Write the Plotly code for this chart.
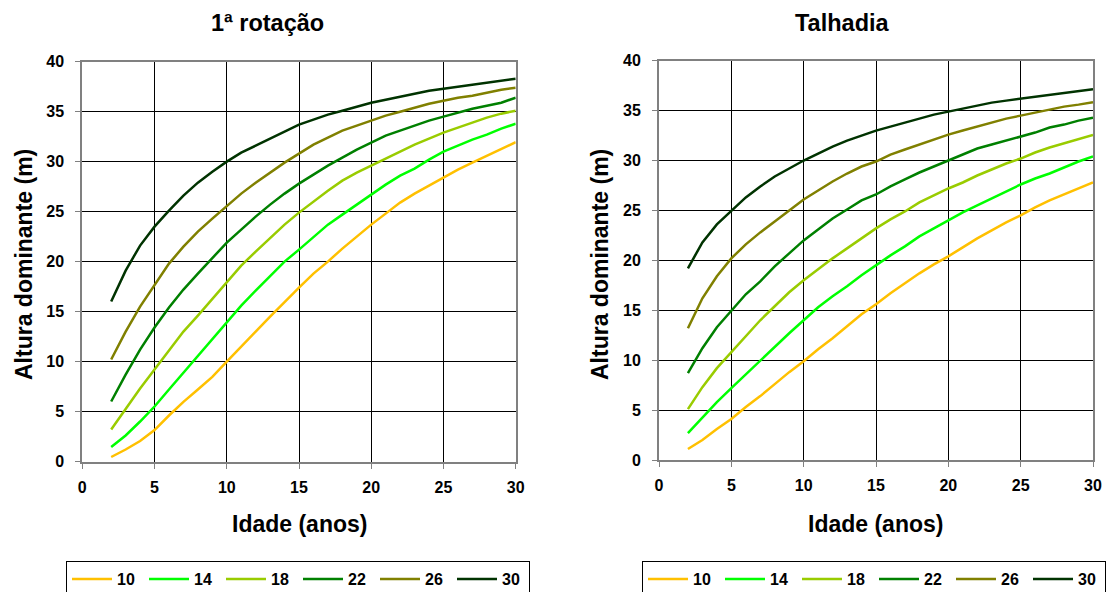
import plotly.graph_objects as go

# ---- data ----
ages = list(range(2, 31))
site_labels = ["10", "14", "18", "22", "26", "30"]
colors = ["#FFC000", "#00FF00", "#99CC00", "#008000", "#808000", "#003300"]

rot1_10 = [0.45, 1.2, 2.05, 3.15, 4.6, 5.97, 7.2, 8.47, 10.0, 11.55, 13.0, 14.5, 16.0, 17.4,
           18.8, 20.0, 21.3, 22.5, 23.7, 24.8, 25.9, 26.8, 27.6, 28.35, 29.2, 29.9, 30.6, 31.3, 31.95]
rot1_14 = [1.45, 2.6, 4.0, 5.5, 7.2, 8.9, 10.6, 12.3, 14.0, 15.6, 17.1, 18.6, 20.0, 21.2,
           22.5, 23.7, 24.7, 25.7, 26.7, 27.7, 28.6, 29.3, 30.2, 31.0, 31.6, 32.2, 32.7, 33.3, 33.8]
rot1_18 = [3.2, 5.3, 7.3, 9.2, 11.1, 13.0, 14.6, 16.3, 18.0, 19.6, 21.0, 22.4, 23.7, 24.9,
           26.0, 27.1, 28.1, 28.9, 29.6, 30.3, 31.0, 31.7, 32.3, 32.9, 33.4, 33.9, 34.4, 34.8, 35.1]
rot1_22 = [6.0, 8.7, 11.2, 13.4, 15.4, 17.2, 18.8, 20.4, 21.9, 23.2, 24.5, 25.7, 26.8, 27.8,
           28.7, 29.6, 30.4, 31.2, 31.9, 32.6, 33.1, 33.6, 34.1, 34.5, 34.9, 35.3, 35.6, 35.9, 36.4]
rot1_26 = [10.2, 13.0, 15.5, 17.7, 19.8, 21.5, 23.0, 24.3, 25.6, 26.8, 27.9, 28.9, 29.9, 30.8,
           31.7, 32.4, 33.1, 33.6, 34.1, 34.6, 35.0, 35.4, 35.8, 36.1, 36.4, 36.6, 36.9, 37.2, 37.4]
rot1_30 = [16.0, 19.1, 21.6, 23.5, 25.1, 26.6, 27.9, 29.0, 30.0, 30.9, 31.6, 32.3, 33.0, 33.7,
           34.2, 34.7, 35.1, 35.5, 35.9, 36.2, 36.5, 36.8, 37.1, 37.3, 37.5, 37.7, 37.9, 38.1, 38.3]

tal_10 = [1.1, 2.0, 3.1, 4.1, 5.3, 6.4, 7.6, 8.8, 9.9, 11.1, 12.2, 13.4, 14.6, 15.6,
          16.7, 17.7, 18.7, 19.6, 20.4, 21.3, 22.2, 23.0, 23.8, 24.5, 25.3, 26.0, 26.6, 27.2, 27.8]
tal_14 = [2.7, 4.3, 5.8, 7.2, 8.6, 9.9, 11.3, 12.7, 14.0, 15.3, 16.4, 17.4, 18.5, 19.5,
          20.5, 21.4, 22.4, 23.2, 24.0, 24.8, 25.5, 26.2, 26.9, 27.6, 28.2, 28.7, 29.3, 29.9, 30.4]
tal_18 = [5.1, 7.3, 9.2, 10.8, 12.5, 14.0, 15.4, 16.8, 18.0, 19.1, 20.2, 21.2, 22.2, 23.2,
          24.1, 24.9, 25.8, 26.5, 27.2, 27.8, 28.5, 29.1, 29.7, 30.2, 30.8, 31.3, 31.7, 32.1, 32.55]
tal_22 = [8.7, 11.2, 13.3, 15.0, 16.6, 17.9, 19.4, 20.7, 22.0, 23.1, 24.2, 25.1, 26.0, 26.6,
          27.4, 28.1, 28.8, 29.4, 30.0, 30.6, 31.2, 31.6, 32.0, 32.4, 32.8, 33.3, 33.6, 34.0, 34.3]
tal_26 = [13.2, 16.2, 18.4, 20.2, 21.6, 22.8, 23.9, 25.0, 26.1, 27.0, 27.9, 28.7, 29.4, 29.9,
          30.6, 31.1, 31.6, 32.1, 32.6, 33.0, 33.4, 33.8, 34.2, 34.5, 34.8, 35.1, 35.4, 35.6, 35.85]
tal_30 = [19.2, 21.8, 23.6, 25.0, 26.3, 27.4, 28.4, 29.2, 30.0, 30.7, 31.4, 32.0, 32.5, 33.0,
          33.4, 33.8, 34.2, 34.6, 34.9, 35.2, 35.5, 35.8, 36.0, 36.2, 36.4, 36.6, 36.8, 37.0, 37.15]

rot1_series = [rot1_10, rot1_14, rot1_18, rot1_22, rot1_26, rot1_30]
tal_series = [tal_10, tal_14, tal_18, tal_22, tal_26, tal_30]

panel_titles = ["1ª rotação", "Talhadia"]
x_title = "Idade (anos)"
y_title = "Altura dominante (m)"
tick_vals_x = [0, 5, 10, 15, 20, 25, 30]
tick_vals_y = [0, 5, 10, 15, 20, 25, 30, 35, 40]

# ---- figure ----
W, H = 1109, 592
FONT = "Arial, Liberation Sans, sans-serif"

fig = go.Figure()

for lab, col, ys in zip(site_labels, colors, rot1_series):
    fig.add_trace(go.Scatter(x=ages, y=ys, mode="lines", name=lab,
                             line=dict(color=col, width=2.5),
                             xaxis="x", yaxis="y", legend="legend"))
for lab, col, ys in zip(site_labels, colors, tal_series):
    fig.add_trace(go.Scatter(x=ages, y=ys, mode="lines", name=lab,
                             line=dict(color=col, width=2.5),
                             xaxis="x2", yaxis="y2", legend="legend2"))

axis_common = dict(
    showgrid=True, gridcolor="#000000", gridwidth=1,
    showline=True, linecolor="#808080", linewidth=2, mirror=True,
    ticks="outside", ticklen=5, tickcolor="#808080", tickwidth=1,
    zeroline=False,
    tickfont=dict(family=FONT, size=16, color="#000000", weight="bold"),
)
xaxis_extra = dict(ticklabelstandoff=5)
yaxis_extra = dict(ticklabelstandoff=8)

legend_common = dict(
    orientation="h", xanchor="left", y=1 - 561 / H, yanchor="top",
    bordercolor="#000000", borderwidth=1, bgcolor="white",
    entrywidth=22, entrywidthmode="pixels", itemwidth=40,
    font=dict(family=FONT, size=16, color="#000000", weight="bold"),
    tracegroupgap=0, itemclick=False,
)

fig.update_layout(
    width=W, height=H,
    margin=dict(l=0, r=0, t=0, b=0, autoexpand=False),
    paper_bgcolor="white", plot_bgcolor="white",
    showlegend=True,
    xaxis=dict(domain=[82.3 / W, 515.7 / W], range=[0, 30], tickvals=tick_vals_x,
               anchor="y", **axis_common, **xaxis_extra),
    yaxis=dict(domain=[1 - 461.5 / H, 1 - 61.7 / H], range=[0, 40], tickvals=tick_vals_y,
               anchor="x", **axis_common, **yaxis_extra),
    xaxis2=dict(domain=[659 / W, 1093 / W], range=[0, 30], tickvals=tick_vals_x,
                anchor="y2", **axis_common, **xaxis_extra),
    yaxis2=dict(domain=[1 - 460 / H, 1 - 60.7 / H], range=[0, 40], tickvals=tick_vals_y,
                anchor="x2", **axis_common, **yaxis_extra),
    legend=dict(x=66 / W, **legend_common),
    legend2=dict(x=642 / W, **legend_common),
)

title_font = dict(family=FONT, size=23.5, color="#000000", weight="bold")
axis_title_font = dict(family=FONT, size=23, color="#000000", weight="bold")
ytitle_font = dict(family=FONT, size=23, color="#000000", weight="bold")
ann = []
for cx, t in zip([267, 842], panel_titles):
    ann.append(dict(text=t, x=cx / W, y=1 - 23 / H, xref="paper", yref="paper",
                    xanchor="center", yanchor="middle", showarrow=False, font=title_font))
for cx in [299, 875]:
    ann.append(dict(text=x_title, x=cx / W, y=1 - 524 / H, xref="paper", yref="paper",
                    xanchor="center", yanchor="middle", showarrow=False, font=axis_title_font))
for cx, cy in [(24, 265), (600, 264)]:
    ann.append(dict(text=y_title, x=cx / W, y=1 - cy / H, xref="paper", yref="paper",
                    xanchor="center", yanchor="middle", showarrow=False, textangle=-90,
                    font=ytitle_font))
fig.update_layout(annotations=ann)

fig.write_html("out.html")
